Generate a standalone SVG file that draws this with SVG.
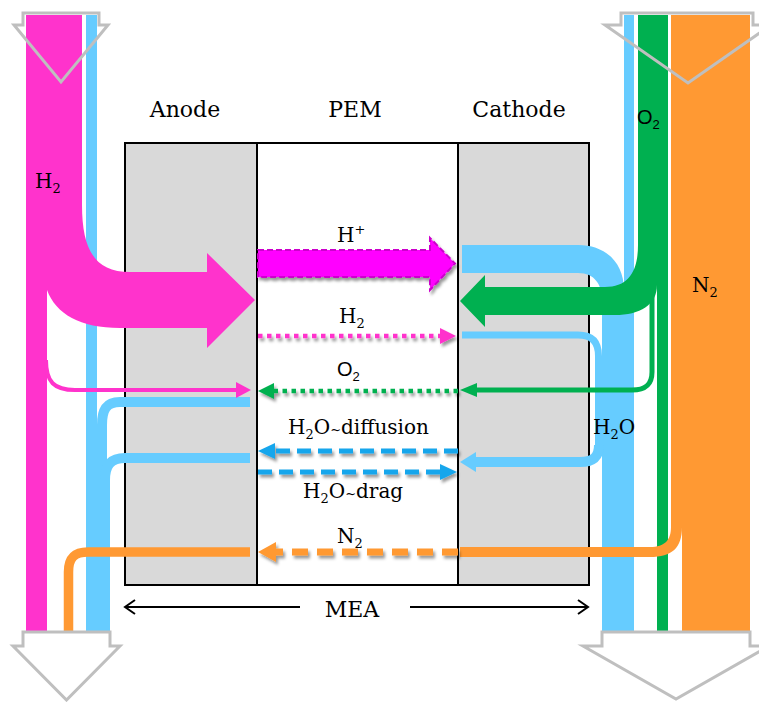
<svg xmlns="http://www.w3.org/2000/svg" width="759" height="702" viewBox="0 0 759 702">
<defs>
<style>
.t{font-family:"DejaVu Serif","Liberation Serif",serif;font-size:20px;fill:#000}
.h{font-size:22px}
.s{font-family:"Liberation Sans",Arial,sans-serif}
.sub{font-size:13px}
.til{font-size:13px}
.box{stroke:#000;stroke-width:2}
.gray{fill:#D9D9D9}
.out{stroke:#BFBFBF;stroke-width:3}
.mag{fill:#FF33CC}
.blue{fill:#66CCFF}
.grn{fill:#00B050}
.org{fill:#FF9933}
.ln{fill:none}
</style>
<filter id="sh" x="-10%" y="-60%" width="130%" height="260%">
<feDropShadow dx="2" dy="3" stdDeviation="1.5" flood-color="#000" flood-opacity="0.4"/>
</filter>
</defs>
<rect width="759" height="702" fill="#fff"/>

<g id="headers">
<text class="t h" x="185" y="117" text-anchor="middle">Anode</text>
<text class="t h" x="355" y="117" text-anchor="middle">PEM</text>
<text class="t h" x="519" y="117" text-anchor="middle">Cathode</text>
</g>

<g id="anode"><rect x="125" y="143" width="132" height="442" class="gray box"/></g>
<g id="pem"><rect x="257" y="143" width="201" height="442" fill="#fff" class="box"/></g>
<g id="cathode"><rect x="458" y="143" width="131" height="442" class="gray box"/></g>

<g id="connectors">
<!-- left side streams -->
<rect x="86" y="15" width="11" height="617" class="blue"/>
<path d="M250 402 H120 C106 402 102 410 102 425 V632" class="ln" stroke="#66CCFF" stroke-width="10"/>
<path d="M250 458 H125 C110 458 105 466 105 480 V632" class="ln" stroke="#66CCFF" stroke-width="10"/>
<path d="M26 15 H82 V205 C82 250 95 272 130 272 H207 V253 L255 300 L207 348 V328 H120 C80 328 56 314 47 290 V632 H26 Z" class="mag"/>
<path d="M46 360 C46 382 54 390 75 390 H238" class="ln" stroke="#FF33CC" stroke-width="4"/>
<polygon points="236,382 251,390 236,398" class="mag"/>
<path d="M68.5 632 V572 C68.5 558 74 552 88 552 H250" class="ln" stroke="#FF9933" stroke-width="9.5"/>

<!-- right side streams -->
<rect x="624" y="15" width="10" height="617" class="blue"/>
<path d="M462 245 H578 C605 245 624 262 624 290 V632 H602 V300 C602 285 595 273 578 273 H462 Z" class="blue"/>
<path d="M462 335 H578 C592 335 598.5 342 598.5 356 V450" class="ln" stroke="#66CCFF" stroke-width="7"/>
<path d="M599 445 C599 457 593 462 580 462 H474" class="ln" stroke="#66CCFF" stroke-width="10"/>
<polygon points="476,452 460,462 476,472" class="blue"/>
<rect x="657" y="15" width="11" height="617" class="grn"/>
<path d="M638 15 H657 V285 C657 305 640 315 615 315 H485 V327 L460 301 L485 275 V287 H605 C628 287 638 272 638 245 Z" class="grn"/>
<path d="M652 290 V372 C652 385 645 390 632 390 H474" class="ln" stroke="#00B050" stroke-width="5"/>
<polygon points="477,383 460,390 477,397" class="grn"/>
<path d="M671 15 H750 V632 H682 V527 C682 548 672 557 650 557 H460 V547 H650 C665 547 671 540 671 527 Z" class="org"/>

<!-- PEM transport arrows -->
<g filter="url(#sh)">
<path d="M258 250 H430 V238 L455 263.5 L430 290 V277 H258 Z" fill="#FF00FF" stroke="#CC00CC" stroke-width="2" stroke-dasharray="6 3"/>
</g>
<g filter="url(#sh)">
<line x1="258" y1="336" x2="442" y2="336" stroke="#FF33CC" stroke-width="4.5" stroke-dasharray="4.5 4.5"/>
<polygon points="440,328 456,336 440,344" class="mag"/>
</g>
<g filter="url(#sh)">
<line x1="458" y1="391" x2="274" y2="391" stroke="#00B050" stroke-width="4.5" stroke-dasharray="4.5 4.5"/>
<polygon points="274,383 258,391 274,399" class="grn"/>
</g>
<g filter="url(#sh)">
<line x1="458" y1="451" x2="274" y2="451" stroke="#17A6EC" stroke-width="5" stroke-dasharray="14 7"/>
<polygon points="275,443 258,451 275,459" fill="#17A6EC"/>
</g>
<g filter="url(#sh)">
<line x1="258" y1="472" x2="441" y2="472" stroke="#17A6EC" stroke-width="5" stroke-dasharray="14 7"/>
<polygon points="440,464 457,472 440,480" fill="#17A6EC"/>
</g>
<g filter="url(#sh)">
<line x1="458" y1="552" x2="274" y2="552" stroke="#FF9933" stroke-width="7" stroke-dasharray="16 9"/>
<polygon points="276,542 258,552 276,562" class="org"/>
</g>

<!-- MEA dimension -->
<g stroke="#000" stroke-width="2" fill="none">
<line x1="125" y1="607" x2="300" y2="607"/>
<polyline points="135,600 125,607 135,614"/>
<line x1="410" y1="607" x2="588" y2="607"/>
<polyline points="578,600 588,607 578,614"/>
</g>

<!-- inlet / outlet outline arrows -->
<path d="M23 13 H99 V25 H108 L61 82 L14 25 H23 Z" fill="none" class="out"/>
<path d="M621 13 H753 V25 H771 L688 83 L605 25 H621 Z" fill="none" class="out"/>
<path d="M23 632 H110 V646 H120 L66.5 700 L13 646 H23 Z" fill="#fff" class="out"/>
<path d="M602 632 H750 V646 H769 L676 699 L583 646 H602 Z" fill="#fff" class="out"/>
</g>

<g id="labels">
<text class="t" x="337" y="242">H<tspan font-size="13" dy="-8">+</tspan></text>
<text class="t" x="339" y="323">H<tspan class="sub" dy="5">2</tspan></text>
<text class="t s" x="337" y="376">O<tspan class="sub" dy="5">2</tspan></text>
<text class="t" x="288" y="434">H<tspan class="sub" dy="5">2</tspan><tspan dy="-5">O</tspan><tspan class="til">~</tspan><tspan>diffusion</tspan></text>
<text class="t" x="303" y="498">H<tspan class="sub" dy="5">2</tspan><tspan dy="-5">O</tspan><tspan class="til">~</tspan><tspan>drag</tspan></text>
<text class="t" x="337" y="543">N<tspan class="sub" dy="5">2</tspan></text>
<text class="t" x="35" y="188">H<tspan class="sub" dy="5">2</tspan></text>
<text class="t s" x="637" y="124" font-size="22">O<tspan class="sub" dy="5">2</tspan></text>
<text class="t" x="692" y="292">N<tspan class="sub" dy="5">2</tspan></text>
<text class="t" x="593" y="434">H<tspan class="sub" dy="5">2</tspan><tspan dy="-5">O</tspan></text>
<text class="t h" x="352" y="617" text-anchor="middle">MEA</text>
</g>
</svg>
